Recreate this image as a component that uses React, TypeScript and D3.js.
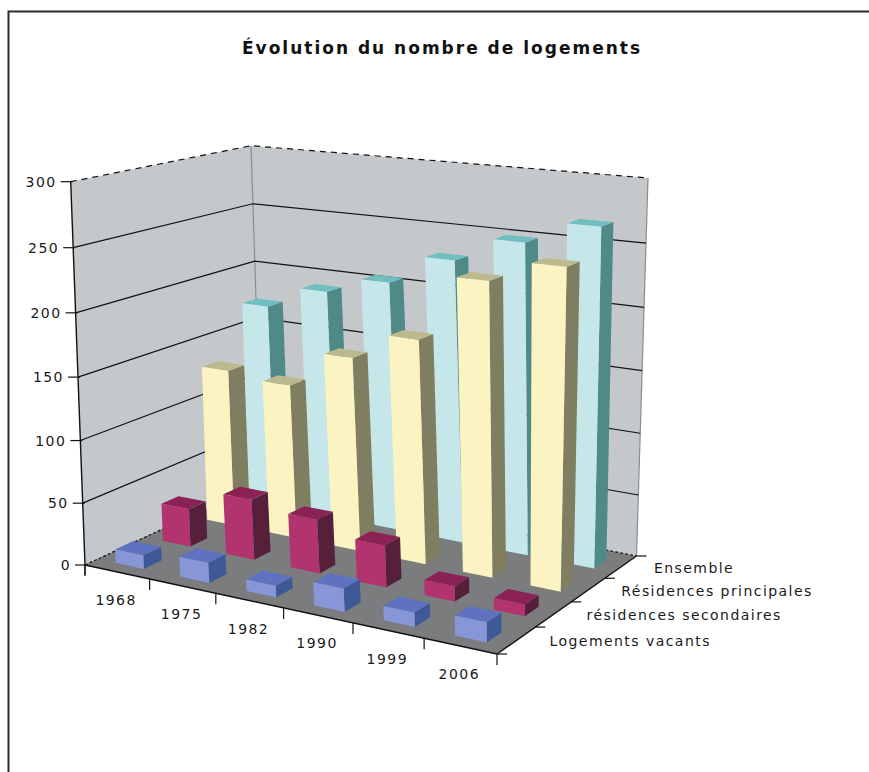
import React from "react";
import * as d3 from "d3";

const years = ["1968", "1975", "1982", "1990", "1999", "2006"];
const rows = ["Ensemble", "Résidences principales", "résidences secondaires", "Logements vacants"];
const ensemble = [173, 192, 206, 230, 250, 268];
const principales = [131, 127, 157, 179, 231, 248];
const secondaires = [31, 49, 43, 33, 12, 9];
const vacants = [11, 16, 9, 18, 11, 15];
const valueTicks = [0, 50, 100, 150, 200, 250, 300];

const palettes = [
  { front: "#c6e7ea", top: "#6fbfc0", side: "#4f8a89" },
  { front: "#fbf3c1", top: "#bcb98f", side: "#7f7e60" },
  { front: "#b2346e", top: "#8a2256", side: "#56203a" },
  { front: "#8796d6", top: "#5f72c0", side: "#3f5898" },
];
const series = [ensemble, principales, secondaires, vacants];

type P = [number, number];
// Homography from the unit square to a quad (u along years, v front->back)
function quadMap(fl: P, fr: P, br: P, bl: P) {
  const [x0, y0] = fl, [x1, y1] = fr, [x2, y2] = br, [x3, y3] = bl;
  const dx1 = x1 - x2, dx2 = x3 - x2, sx = x0 - x1 + x2 - x3;
  const dy1 = y1 - y2, dy2 = y3 - y2, sy = y0 - y1 + y2 - y3;
  const det = dx1 * dy2 - dx2 * dy1;
  const g = (sx * dy2 - dx2 * sy) / det;
  const h = (dx1 * sy - sx * dy1) / det;
  const a = x1 - x0 + g * x1, b = x3 - x0 + h * x3, d = y1 - y0 + g * y1, e = y3 - y0 + h * y3;
  return (u: number, v: number): P => {
    const w = g * u + h * v + 1;
    return [(a * u + b * v + x0) / w, (d * u + e * v + y0) / w];
  };
}
const floor = quadMap([85, 565], [497, 654], [636.5, 556], [262, 483]);
const ceil = quadMap([70.7, 181.7], [502.6, 230], [648, 178], [251, 145.7]);

const heightWarp = 0.04;
const yScale = d3.scaleLinear().domain([0, 300]).range([0, 1]);
const uBand = d3.scaleBand().domain(years).range([0, 1]).paddingInner(0.56).paddingOuter(0.28);
const uSlot = d3.scaleBand().domain(years).range([0, 1]);
const vBand = d3.scaleBand().domain(rows).range([1, 0]).paddingInner(0.52).paddingOuter(0.26);
const vSlot = d3.scaleBand().domain(rows).range([1, 0]);
const depthRatio = 0.78;

function project(u: number, v: number, val: number): P {
  const s = yScale(val);
  const t = s / (1 + heightWarp * (1 - s));
  const a = floor(u, v), b = ceil(u, v);
  return [a[0] + (b[0] - a[0]) * t, a[1] + (b[1] - a[1]) * t];
}
const line = d3.line<P>().x((d) => d[0]).y((d) => d[1]).curve(d3.curveLinearClosed);
const open = d3.line<P>().x((d) => d[0]).y((d) => d[1]);

const font = "'DejaVu Sans', Verdana, sans-serif";
const labelStyle = { fontFamily: font, fontSize: 14, fill: "#1a1a1a", letterSpacing: "1.45px" } as const;

export default function App() {
  const bars: React.ReactNode[] = [];
  rows.forEach((row, ri) => {
    years.forEach((yr, ci) => {
      const u0 = uBand(yr)!, u1 = u0 + uBand.bandwidth();
      const v0 = vBand(row)!, v1 = v0 + vBand.bandwidth() * depthRatio;
      const val = series[ri][ci];
      const c = palettes[ri];
      bars.push(
        <g key={row + yr}>
          <path d={line([project(u1, v0, 0), project(u1, v1, 0), project(u1, v1, val), project(u1, v0, val)])!} fill={c.side} />
          <path d={line([project(u0, v0, val), project(u1, v0, val), project(u1, v1, val), project(u0, v1, val)])!} fill={c.top} />
          <path d={line([project(u0, v0, 0), project(u1, v0, 0), project(u1, v0, val), project(u0, v0, val)])!} fill={c.front} />
        </g>
      );
    });
  });
  return (
    <svg width={869} height={772} style={{ position: "absolute", left: 0, top: 0, background: "#fff" }}>
      <path d="M8.5,772V11.5H869" fill="none" stroke="#2a2a2a" strokeWidth={2} />
      <text x={442} y={54} textAnchor="middle" style={{ fontFamily: font, fontSize: 17, fontWeight: 700, fill: "#111", letterSpacing: "2px" }}>
        Évolution du nombre de logements
      </text>
      {/* walls */}
      <path d={line([project(0, 0, 0), project(0, 1, 0), project(0, 1, 300), project(0, 0, 300)])!} fill="#c4c8cb" />
      <path d={line([project(0, 1, 0), project(1, 1, 0), project(1, 1, 300), project(0, 1, 300)])!} fill="#c4c8cb" />
      <path d={line([project(0, 0, 0), project(1, 0, 0), project(1, 1, 0), project(0, 1, 0)])!} fill="#7a7c7e" />
      {/* wall edges */}
      <path d={open([project(0, 1, 0), project(0, 1, 300)])!} stroke="#8a8d90" strokeWidth={1.2} fill="none" />
      <path d={open([project(1, 1, 0), project(1, 1, 300)])!} stroke="#8a8d90" strokeWidth={1.2} fill="none" />
      {/* gridlines */}
      {valueTicks.map((t) => (
        <path
          key={t}
          d={open([project(0, 0, t), project(0, 1, t), project(1, 1, t)])!}
          fill="none"
          stroke="#111"
          strokeWidth={1.2}
          strokeDasharray={t === 300 ? "6 5" : t === 0 ? "3 2" : undefined}
        />
      ))}
      {bars}
      {/* value axis */}
      <path d={open([project(0, 0, 300), project(0, 0, 0)])!} stroke="#111" strokeWidth={1.4} fill="none" />
      <path d={`M${project(0, 0, 0)[0]},${project(0, 0, 0)[1]}v10`} stroke="#111" strokeWidth={1.2} />
      {valueTicks.map((t) => {
        const [x, y] = project(0, 0, t);
        return (
          <g key={t}>
            <path d={`M${x - 10},${y}H${x + 2}`} stroke="#111" strokeWidth={1.2} />
            <text x={x - 14} y={y + 5} textAnchor="end" style={labelStyle}>{t}</text>
          </g>
        );
      })}
      {/* year axis */}
      <path d={open([project(0, 0, 0), project(1, 0, 0)])!} stroke="#111" strokeWidth={1.4} fill="none" />
      {[...years.map((y) => uSlot(y)!), 1].map((u, i) => {
        const [x, y] = project(u, 0, 0);
        return <path key={i} d={`M${x},${y}V${y + 11}`} stroke="#111" strokeWidth={1.2} />;
      })}
      {years.map((yr) => {
        const [x, y] = project(uSlot(yr)! + uSlot.bandwidth() / 2, 0, 0);
        return (
          <text key={yr} x={x - 1} y={y + 33} textAnchor="middle" style={labelStyle}>{yr}</text>
        );
      })}
      {/* depth axis */}
      <path d={open([project(1, 0, 0), project(1, 1, 0)])!} stroke="#111" strokeWidth={1.4} fill="none" />
      {[...rows.map((r) => vSlot(r)!), 1].map((v, i) => {
        const [x, y] = project(1, v, 0);
        return <path key={i} d={`M${x},${y}H${x + 10}`} stroke="#111" strokeWidth={1.2} />;
      })}
      {rows.map((r) => {
        const [x, y] = project(1, vSlot(r)! + vSlot.bandwidth() / 2, 0);
        return <text key={r} x={x + 33} y={y + 6} style={labelStyle}>{r}</text>;
      })}
    </svg>
  );
}
